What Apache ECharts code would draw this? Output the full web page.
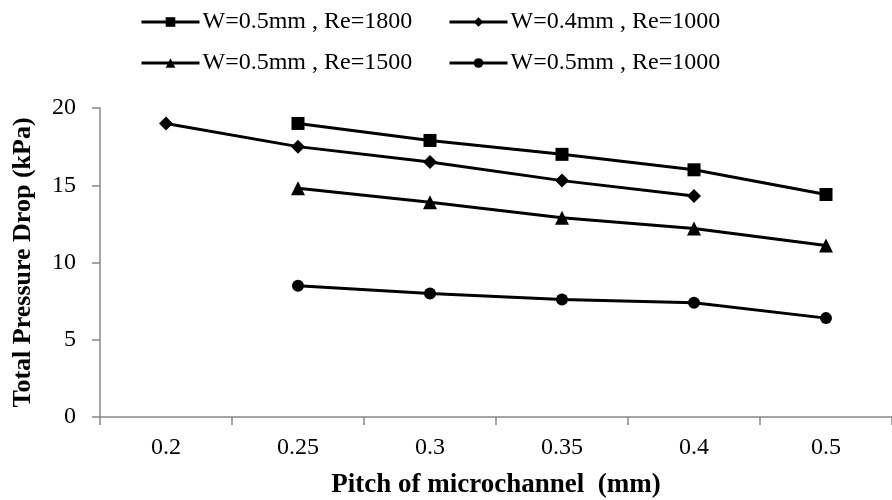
<!DOCTYPE html>
<html>
<head>
<meta charset="utf-8">
<script src="https://cdn.jsdelivr.net/npm/echarts@6/dist/echarts.min.js"></script>
<style>
  html, body { margin: 0; padding: 0; background: #fff; }
  #chart { width: 892px; height: 500px; }
</style>
</head>
<body>
<div id="chart"></div>
<script>
var pitches = ['0.2', '0.25', '0.3', '0.35', '0.4', '0.5'];

var seriesNames = ['W=0.5mm , Re=1800', 'W=0.4mm , Re=1000', 'W=0.5mm , Re=1500', 'W=0.5mm , Re=1000'];
var re1800w05 = [null, 19.0, 17.9, 17.0, 16.0, 14.4];
var re1000w04 = [19.0, 17.5, 16.5, 15.3, 14.3, null];
var re1500w05 = [null, 14.8, 13.9, 12.9, 12.2, 11.1];
var re1000w05 = [null, 8.5, 8.0, 7.6, 7.4, 6.4];

var serif = 'Liberation Serif';
var axisGray = '#888888';

function lineSeries(name, data, symbol, size) {
    return {
        name: name,
        type: 'line',
        data: data,
        symbol: symbol,
        symbolSize: size,
        connectNulls: false,
        lineStyle: { color: '#000', width: 3 },
        itemStyle: { color: '#000' },
        emphasis: { disabled: true }
    };
}

// one legend per item so each sits where the reference puts it
function legendAt(name, left, top) {
    return {
        data: [name],
        left: left, top: top,
        itemWidth: 58, itemHeight: 12, itemGap: 0,
        lineStyle: { width: 3 },
        textStyle: { fontFamily: serif, fontSize: 24, color: '#000', padding: [0, 0, 0, -2] }
    };
}

var chart = echarts.init(document.getElementById('chart'), null, { renderer: 'canvas' });
chart.setOption({
    animation: false,
    backgroundColor: '#fff',
    legend: [
        legendAt(seriesNames[0], 135, 5),
        legendAt(seriesNames[1], 443, 5),
        legendAt(seriesNames[2], 135, 46),
        legendAt(seriesNames[3], 443, 46)
    ],
    grid: { left: 100, right: 0, top: 108, bottom: 83, containLabel: false, outerBoundsMode: 'none' },
    xAxis: {
        type: 'category',
        data: pitches,
        boundaryGap: true,
        name: 'Pitch of microchannel  (mm)',
        nameLocation: 'middle',
        nameGap: 55,
        nameTextStyle: { fontFamily: serif, fontSize: 27, fontWeight: 'bold', color: '#000' },
        axisLine: { lineStyle: { color: axisGray, width: 1.5 } },
        axisTick: { show: true, length: 8, lineStyle: { color: axisGray, width: 1.5 } },
        axisLabel: { fontFamily: serif, fontSize: 24, color: '#000', margin: 19 },
        splitLine: { show: false }
    },
    yAxis: {
        type: 'value',
        min: 0, max: 20, interval: 5,
        name: 'Total Pressure Drop (kPa)',
        nameLocation: 'middle',
        nameGap: 64,
        nameTextStyle: { fontFamily: serif, fontSize: 26, fontWeight: 'bold', color: '#000' },
        axisLine: { show: true, lineStyle: { color: axisGray, width: 1.5 } },
        axisTick: { show: true, length: 8, lineStyle: { color: axisGray, width: 1.5 } },
        axisLabel: { fontFamily: serif, fontSize: 24, color: '#000', margin: 24 },
        splitLine: { show: false }
    },
    series: [
        lineSeries(seriesNames[0], re1800w05, 'rect', 13),
        lineSeries(seriesNames[1], re1000w04, 'diamond', 14),
        lineSeries(seriesNames[2], re1500w05, 'triangle', 14),
        lineSeries(seriesNames[3], re1000w05, 'circle', 12)
    ]
});
</script>
</body>
</html>
